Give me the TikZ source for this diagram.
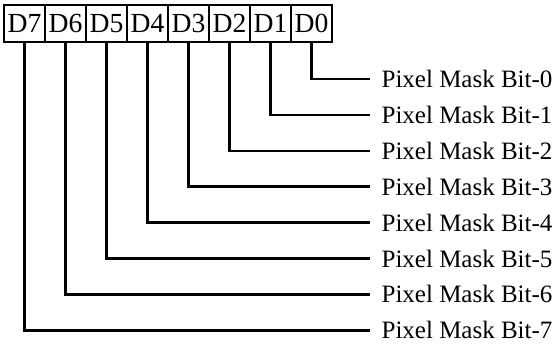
\documentclass[tikz,border=0pt]{standalone}
\usepackage{fontspec}
\setmainfont{Liberation Serif}
\usetikzlibrary{positioning}
\begin{document}
\begin{tikzpicture}[font=\fontsize{12.5}{15}\selectfont]
  \tikzset{
    bitbox/.style={draw, line width=1.4pt,
      minimum width=20.5pt, minimum height=18.5pt,
      inner sep=0pt, outer sep=0pt,
      font=\fontsize{13.8}{16}\selectfont},
    lbl/.style={anchor=west, minimum height=17.95pt,
      inner xsep=5.8pt, inner ysep=0pt, outer sep=0pt},
    wire/.style={line width=1.3pt},
  }
  \useasboundingbox (0,0) rectangle (279pt,-172pt);
  % Register
  \node[bitbox, anchor=north west] (D7) at (2pt,-2.5pt) {D7};
  \node[bitbox, right=0pt of D7] (D6) {D6};
  \node[bitbox, right=0pt of D6] (D5) {D5};
  \node[bitbox, right=0pt of D5] (D4) {D4};
  \node[bitbox, right=0pt of D4] (D3) {D3};
  \node[bitbox, right=0pt of D3] (D2) {D2};
  \node[bitbox, right=0pt of D2] (D1) {D1};
  \node[bitbox, right=0pt of D1] (D0) {D0};
  % Labels
  \node[lbl] (b0) at (185pt,-39.5pt) {Pixel Mask Bit-0};
  \node[lbl, below=0pt of b0] (b1) {Pixel Mask Bit-1};
  \node[lbl, below=0pt of b1] (b2) {Pixel Mask Bit-2};
  \node[lbl, below=0pt of b2] (b3) {Pixel Mask Bit-3};
  \node[lbl, below=0pt of b3] (b4) {Pixel Mask Bit-4};
  \node[lbl, below=0pt of b4] (b5) {Pixel Mask Bit-5};
  \node[lbl, below=0pt of b5] (b6) {Pixel Mask Bit-6};
  \node[lbl, below=0pt of b6] (b7) {Pixel Mask Bit-7};
  % Wires
  \draw[wire] (D0) |- (b0); \draw[wire] (D1) |- (b1);
  \draw[wire] (D2) |- (b2); \draw[wire] (D3) |- (b3);
  \draw[wire] (D4) |- (b4); \draw[wire] (D5) |- (b5);
  \draw[wire] (D6) |- (b6); \draw[wire] (D7) |- (b7);
\end{tikzpicture}
\end{document}
